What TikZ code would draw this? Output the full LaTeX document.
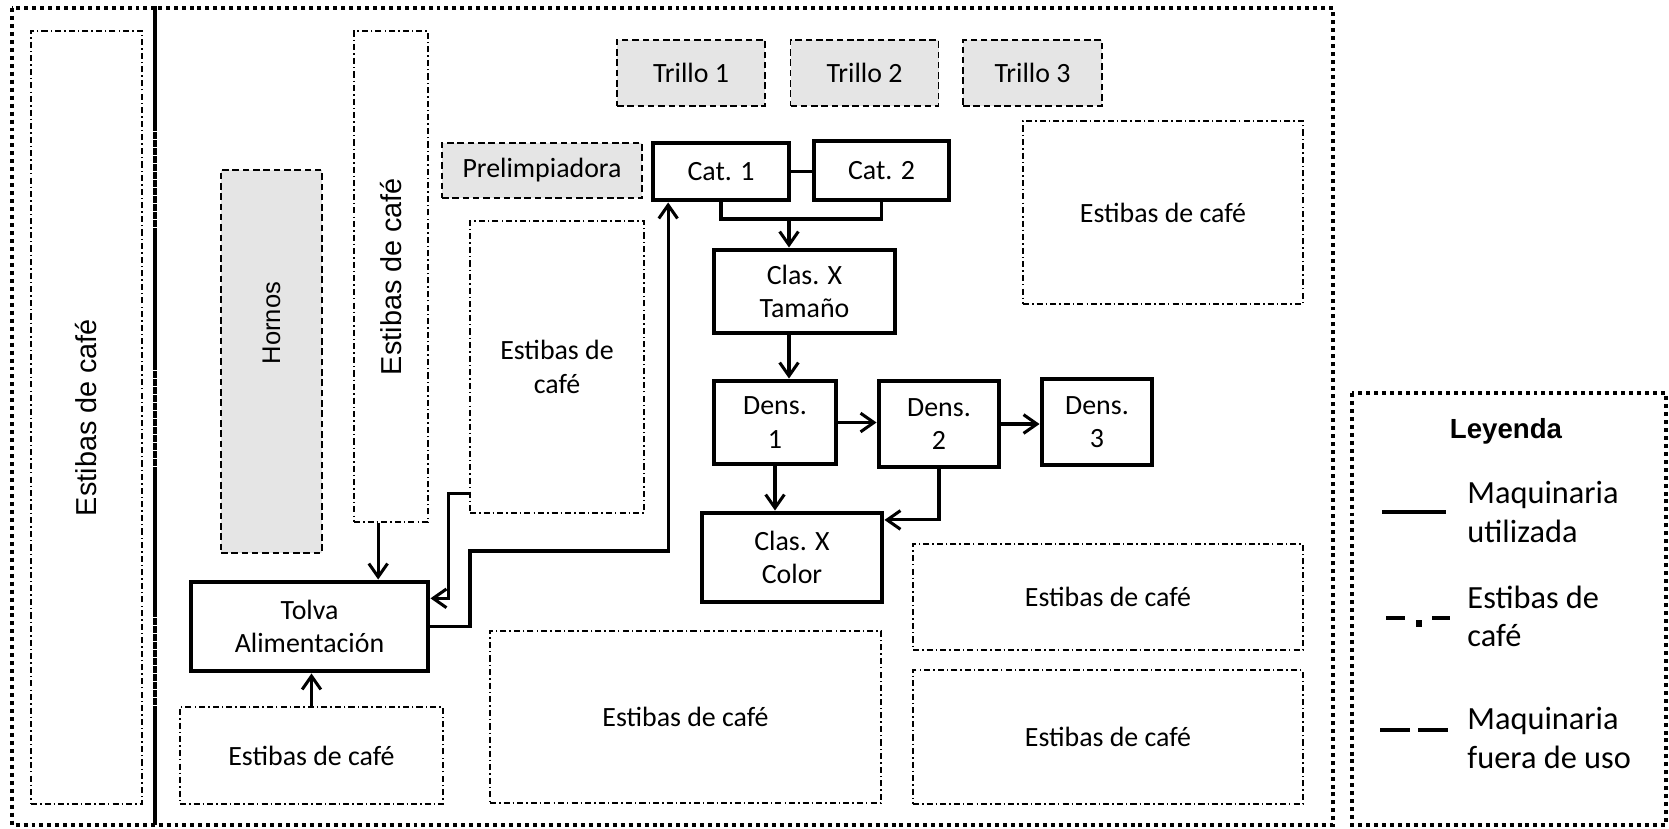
\documentclass[tikz,border=0pt]{standalone}
\usepackage{fontspec}
\usepackage{graphicx}
\setmainfont{Carlito}
\newfontfamily\arialfont{Liberation Sans}
\usetikzlibrary{arrows.meta, calc}
\newcommand\boxfont{\fontsize{11.9}{14.2}\selectfont}
\newcommand\legfont{\fontsize{13.8}{16.3}\selectfont}
\newcommand\vertfont{\arialfont\fontsize{12.3}{14}\selectfont}

\begin{document}
\begin{tikzpicture}[x=0.015cm, y=-0.015cm,
					sz/.style 2 args={minimum width=#1cm, minimum height=#2cm},
					maq/.style={draw, line width=2.1pt, inner sep=0pt, align=center, font=\boxfont},
					fuera/.style={draw, fill=gray!20, line width=0.8pt, dash pattern=on 2.8pt off 1.6pt, inner sep=0pt, align=center, font=\boxfont},
					estiba/.style={draw, line width=0.6pt, dash pattern=on 2.6pt off 1.3pt on 0.6pt off 1.3pt, inner sep=0pt, align=center, font=\boxfont},
					marco/.style={line width=1.7pt, dash pattern=on 1.7pt off 1.7pt},
					linea/.style={line width=1.3pt},
					flecha/.style={line width=1.3pt, -{Straight Barb[length=2mm, width=2.8mm]}}
					]
					\useasboundingbox (0,0) rectangle (1669,828);
					\draw[marco] (12,8) rectangle (155,825);
					\draw[marco] (155,8) rectangle (1333,825);
					\draw[marco] (1352,393) rectangle (1666,825);

					\node[estiba, sz={1.665}{11.595}] (estL) at (86.5,417.5) {\vertfont\rotatebox{90}{Estibas de café}};
					\node[fuera, sz={1.515}{5.745}] (hornos) at (271.5,361.5) {\arialfont\fontsize{10.9}{13}\selectfont\rotatebox{90}{\hspace*{1.15cm}Hornos}};
					\node[estiba, sz={1.11}{7.365}] (estV) at (391,276.5) {\vertfont\rotatebox{90}{Estibas de café}};
					\node[fuera, sz={3.0}{0.825}] (prelim) at (542,170.5) {Prelimpiadora};
					\node[estiba, sz={2.61}{4.38}] (estM) at (557,367) {Estibas de\\café};
					\node[fuera, sz={2.22}{0.99}] (trillo1) at (691,73) {Trillo 1};
					\node[fuera, sz={2.22}{0.99}] (trillo2) at (864.5,73) {Trillo 2};
					\node[fuera, sz={2.085}{0.99}] (trillo3) at (1032.5,73) {Trillo 3};
					\node[estiba, sz={4.2}{2.745}] (estR1) at (1163,212.5) {Estibas de café};

					\node[maq, sz={2.04}{0.855}] (cat1) at (721,171.5) {Cat. 1};
					\node[maq, sz={2.025}{0.885}] (cat2) at (881.5,170.5) {Cat. 2};
					\node[maq, sz={2.715}{1.245}] (tam) at (804.5,291.5) {Clas. X\\Tamaño};
					\node[maq, sz={1.83}{1.245}] (dens1) at (775,422.5) {Dens.\\1};
					\node[maq, sz={1.8}{1.29}] (dens2) at (939,424) {Dens.\\2};
					\node[maq, sz={1.65}{1.29}] (dens3) at (1097,422) {Dens.\\3};
					\node[maq, sz={2.7}{1.335}] (color) at (792,557.5) {Clas. X\\Color};
					\node[maq, sz={3.555}{1.335}] (tolva) at (309.5,626.5) {Tolva\\Alimentación};

					\node[estiba, sz={3.945}{1.455}] (estB1) at (311.5,755.5) {Estibas de café};
					\node[estiba, sz={5.865}{2.58}] (estB2) at (685.5,717) {Estibas de café};
					\node[estiba, sz={5.85}{1.59}] (estR2) at (1108,597) {Estibas de café};
					\node[estiba, sz={5.85}{2.01}] (estR3) at (1108,737) {Estibas de café};

					\coordinate (catjn) at (789,219);
					\coordinate (subida) at (470,551);
					\coordinate (estVout) at ($(estV.south west)!0.33!(estV.south east)$);
					\draw[linea] (cat1.east) -- (cat1.east -| cat2.west);
					\draw[linea] (cat1.south) |- (catjn) -| (cat2.south);
					\draw[flecha] (catjn) -- (catjn |- tam.north);
					\draw[flecha] (tam.south -| catjn) -- (dens1.north -| catjn);
					\draw[flecha] (dens1.east) -- (dens1.east -| dens2.west);
					\draw[flecha] (dens2.east) -- (dens2.east -| dens3.west);
					\draw[flecha] (dens1.south) -- (dens1.south |- color.north);
					\draw[flecha] (dens2.south) |- ($(color.north east)!0.1!(color.south east)$);
					\draw[flecha] (estVout) -- (estVout |- tolva.north);
					\draw[flecha] ($(estM.north west)!0.93!(estM.south west)$) -- ++(-21,0) |- ($(tolva.north east)!0.2!(tolva.south east)$);
					\draw[flecha] (tolva.east) -| (subida) -| ($(cat1.south west)!0.125!(cat1.south east)$);
					\draw[flecha] (estB1.north) -- (estB1.north |- tolva.south);

					\node[font=\arialfont\bfseries\fontsize{11.8}{14}\selectfont] (leyenda) at (1506,431) {Leyenda};
					\node[anchor=west, align=left, inner sep=0pt, font=\legfont] (legmaq) at (1467,512) {Maquinaria\\utilizada};
					\node[anchor=west, align=left, inner sep=0pt, font=\legfont] (legest) at (1467,616) {Estibas de\\café};
					\node[anchor=west, align=left, inner sep=0pt, font=\legfont] (legfuera) at (1467,738) {Maquinaria\\fuera de uso};
					\draw[line width=1.7pt] ($(legmaq.west)+(-85,0)$) -- ($(legmaq.west)+(-21,0)$);
					\draw[line width=1.7pt] ($(legest.west)+(-81,2)$) -- ($(legest.west)+(-62,2)$)
						($(legest.west)+(-35,2)$) -- ($(legest.west)+(-17,2)$);
					\fill ($(legest.west)+(-51,4)$) rectangle ($(legest.west)+(-45,11)$);
					\draw[line width=1.7pt, dash pattern=on 0.45cm off 0.12cm] ($(legfuera.west)+(-87,-8)$) -- ($(legfuera.west)+(-17,-8)$);
				\end{tikzpicture}
\end{document}
